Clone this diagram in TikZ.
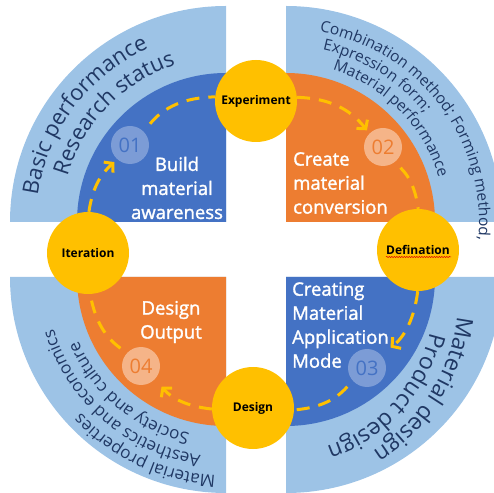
\documentclass[tikz,border=0pt]{standalone}
\usepackage{fontspec}
\setmainfont{Open Sans}
\usetikzlibrary{arrows.meta,calc,decorations.text,decorations.pathmorphing}
\definecolor{ringblue}{HTML}{9DC3E6}
\definecolor{qblue}{HTML}{4472C4}
\definecolor{qorange}{HTML}{ED7D31}
\definecolor{gold}{HTML}{FFC000}
\definecolor{navy}{HTML}{203864}
\begin{document}
\begin{tikzpicture}[x=1pt,y=1pt,
  stage/.style={circle, fill=gold, minimum size=82pt, inner sep=0pt, font=\fontsize{12}{12}\selectfont\bfseries},
  num/.style={circle, minimum size=38pt, inner sep=0pt, font=\fontsize{20}{20}\selectfont},
  quadtext/.style={text=white, font=\fontsize{18.5}{24}\selectfont\addfontfeatures{FakeBold=1.6}, inner sep=0pt},
  flow/.style={draw=gold, line width=3pt, dash pattern=on 13pt off 9pt},
  tip/.style={-{Straight Barb[length=6pt,width=14pt]}},
  arctext/.style={decorate, decoration={text along path, text color=navy, text={#1}}}]
\useasboundingbox (0,0) rectangle (494,492);
\clip (0,0) rectangle (494,492);
\coordinate (tl) at (226,270);
\coordinate (tr) at (286,270);
\coordinate (bl) at (226,215);
\coordinate (br) at (286,215);
\coordinate (brtext) at (276,195);
\fill[ringblue] (tl) -- ++(180:216) arc (180:90:216) -- cycle;
\fill[qblue] (tl) -- ++(180:149) arc (180:90:149) -- cycle;
\fill[ringblue] (tr) -- ++(90:216) arc (90:0:216) -- cycle;
\fill[qorange] (tr) -- ++(90:149) arc (90:0:149) -- cycle;
\fill[ringblue] (br) -- ++(0:216) arc (0:-90:216) -- cycle;
\fill[qblue] (br) -- ++(0:149) arc (0:-90:149) -- cycle;
\fill[ringblue] (bl) -- ++(-90:216) arc (-90:-180:216) -- cycle;
\fill[qorange] (bl) -- ++(-90:149) arc (-90:-180:149) -- cycle;
\path[arctext={|\fontsize{22}{22}\selectfont|Basic performance}] ($(tl)+(172:190)$) arc (172:90:190);
\path[arctext={|\fontsize{22}{22}\selectfont|Research status}] ($(tl)+(164:165)$) arc (164:90:165);
\path[arctext={|\fontsize{15.5}{16}\selectfont|Combination method; Forming method,}] ($(tr)+(80:193)$) arc (80:-12:193);
\path[arctext={|\fontsize{15.5}{16}\selectfont|Expression form;}] ($(tr)+(78:176)$) arc (78:0:176);
\path[arctext={|\fontsize{15.5}{16}\selectfont|Material performance}] ($(tr)+(73:159)$) arc (73:0:159);
\path[arctext={|\fontsize{23}{23}\selectfont|Material design}] ($(brtext)+(-6:182)$) arc (-6:-90:182);
\path[arctext={|\fontsize{23}{23}\selectfont|Product design}] ($(brtext)+(-13:158)$) arc (-13:-90:158);
\path[arctext={|\fontsize{17}{17}\selectfont|Material properties}] ($(bl)+(-93:199)$) arc (-93:-180:199);
\path[arctext={|\fontsize{17}{17}\selectfont|Aesthetics and economics}] ($(bl)+(-98:180)$) arc (-98:-180:180);
\path[arctext={|\fontsize{17}{17}\selectfont|Society and culture}] ($(bl)+(-103:161)$) arc (-103:-180:161);
\node[quadtext, align=center] (build) at (177,304) {Build\\material\\awareness};
\node[quadtext, align=left, anchor=west] (create) at (293,309) {Create\\material\\conversion};
\node[quadtext, align=left, anchor=west] (apply) at (292,167) {Creating\\Material\\Application\\Mode};
\node[quadtext, align=center] (output) at (171,170) {Design\\Output};
\node[num, fill=qblue!70!white, text=qblue] (n01) at (130,347) {01};
\node[num, fill=qorange!58!white, text=qorange] (n02) at (383,345) {02};
\node[num, fill=qblue!70!white, text=qblue] (n03) at (367,124) {03};
\node[num, fill=qorange!58!white, text=qorange] (n04) at (141,126) {04};
\node[stage] (exper) at (256,391) {Experiment};
\node[stage] (iter) at (88,239) {Iteration};
\node[stage] (defin) at (418,242) {Defination};
\node[stage] (design) at (253,84) {Design};
\draw[red!85!black, line width=0.5pt, decorate, decoration={snake, amplitude=0.6pt, segment length=2.5pt}] ([shift={(-32,-7)}]defin.center) -- ([shift={(33,-7)}]defin.center);
\draw[flow, tip, shorten >=4pt] (iter) to[bend left=20] (n01);
\draw[flow, shorten <=10pt] (n01) to[bend left=25] (exper);
\draw[flow, tip, shorten >=4pt] (exper) to[bend left=25] (n02);
\draw[flow, shorten <=8pt] (n02) to[bend left=19] (defin);
\draw[flow, tip, shorten >=12pt] (defin) to[bend left=23] (n03);
\draw[flow, shorten <=8pt] (n03) to[bend left=22] (design);
\draw[flow, tip, shorten >=10pt] (design) to[bend left=22] (n04);
\draw[flow, shorten <=8pt] (n04) to[bend left=22] (iter);
\end{tikzpicture}
\end{document}
